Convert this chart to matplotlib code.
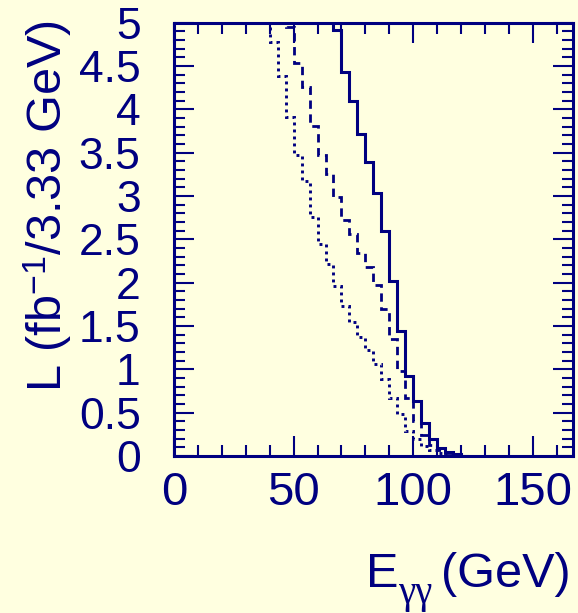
import matplotlib
matplotlib.use("Agg")
import matplotlib.pyplot as plt
from matplotlib.ticker import MultipleLocator, FormatStrFormatter
import numpy as np

NAVY = "#000080"
BG = "#ffffe0"

# histogram bins are 3.33 GeV wide, x axis runs over 50 bins
BIN_W = 10.0 / 3.0
E_MAX = 50 * BIN_W

# first bin index of each curve and its contents (L in fb^-1 per bin)
solid_first_bin = 19
solid_L = [6.0, 4.92, 4.43, 4.10, 3.71, 3.39, 3.03, 2.60, 2.02, 1.445, 0.926,
           0.64, 0.385, 0.20, 0.093, 0.05, 0.025, 0.0]

dashed_first_bin = 13
dashed_L = [6.0, 4.95, 4.53, 4.26, 3.81, 3.47, 3.25, 2.99, 2.72, 2.557, 2.345,
            2.18, 1.97, 1.70, 1.35, 0.98, 0.67, 0.40, 0.24, 0.125, 0.07, 0.03,
            0.015, 0.0]

dotted_first_bin = 11
dotted_L = [6.0, 4.78, 4.38, 3.91, 3.47, 3.17, 2.76, 2.445, 2.21, 1.96, 1.73,
            1.55, 1.37, 1.22, 1.06, 0.89, 0.67, 0.49, 0.29, 0.20, 0.115, 0.07,
            0.03, 0.01, 0.0]

plt.rcParams["font.family"] = ["Liberation Sans", "DejaVu Sans"]
plt.rcParams["mathtext.fontset"] = "custom"
plt.rcParams["mathtext.rm"] = "Liberation Sans"
plt.rcParams["mathtext.it"] = "Liberation Serif"
plt.rcParams["mathtext.bf"] = "Liberation Sans:bold"


def edges_for(first_bin, values):
    return (first_bin + np.arange(len(values) + 1)) * BIN_W


fig = plt.figure(figsize=(5.78, 6.13), dpi=100, facecolor=BG)
ax = fig.add_axes([174 / 578, 1 - 456 / 613, (572.7 - 174) / 578, (456 - 22.7) / 613])
ax.set_facecolor(BG)

ax.stairs(solid_L, edges_for(solid_first_bin, solid_L), baseline=None,
          color=NAVY, lw=2.2)
ax.stairs(dashed_L, edges_for(dashed_first_bin, dashed_L), baseline=None,
          color=NAVY, lw=2.0, linestyle=(0, (3, 2)))
ax.stairs(dotted_L, edges_for(dotted_first_bin, dotted_L), baseline=None,
          color=NAVY, lw=2.1, linestyle=(0, (1, 1.4)))

ax.set_xlim(0, E_MAX)
ax.set_ylim(0, 5)

ax.xaxis.set_major_locator(MultipleLocator(50))
ax.xaxis.set_minor_locator(MultipleLocator(10))
ax.yaxis.set_major_locator(MultipleLocator(0.5))
ax.yaxis.set_minor_locator(MultipleLocator(0.1))
ax.xaxis.set_major_formatter(FormatStrFormatter("%g"))
ax.yaxis.set_major_formatter(FormatStrFormatter("%g"))

ax.tick_params(which="both", direction="in", top=True, right=True,
               color=NAVY, width=1.5, labelcolor=NAVY)
ax.tick_params(which="major", length=14.5)
ax.tick_params(which="minor", length=8)
ax.tick_params(axis="x", which="major", labelsize=34, pad=11)
ax.tick_params(axis="y", which="major", labelsize=32, pad=24)

for sp in ax.spines.values():
    sp.set_color(NAVY)
    sp.set_linewidth(2.2)

fig.text(48 / 578, 1 - 206 / 613, r"L (fb$^{-1}$/3.33 GeV)", rotation=90,
         ha="center", va="center", fontsize=35, color=NAVY)

# x title built from pieces so the gamma subscript can be large and serif
fig.text(366 / 578, 1 - 587 / 613, "E", ha="left", va="baseline",
         fontsize=35, color=NAVY)
fig.text(398 / 578, 1 - 603 / 613, "\u03b3\u03b3", ha="left", va="baseline",
         fontsize=28, color=NAVY, family="Liberation Serif")
fig.text(571 / 578, 1 - 587 / 613, "(GeV)", ha="right", va="baseline",
         fontsize=35, color=NAVY)

fig.savefig("out.png", dpi=100, facecolor=BG)
